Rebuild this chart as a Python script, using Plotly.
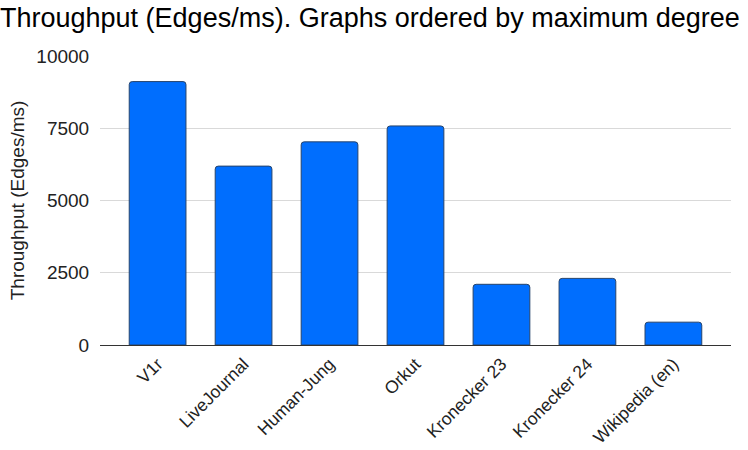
import plotly.graph_objects as go

graphs = ["V1r", "LiveJournal", "Human-Jung", "Orkut", "Kronecker 23", "Kronecker 24", "Wikipedia (en)"]
throughput = [9115, 6190, 7030, 7580, 2100, 2305, 790]
y_ticks = [0, 2500, 5000, 7500, 10000]
y_tick_labels = ["0", "2500", "5000", "7500", "10000"]

font = "Liberation Sans, Arial, sans-serif"

fig = go.Figure(go.Bar(
    x=graphs, y=throughput, width=0.66,
    marker=dict(color="#006efe", line=dict(color="#27446b", width=1), cornerradius=3),
))

fig.update_layout(
    width=748, height=450,
    margin=dict(l=100, r=17, t=56, b=105),
    paper_bgcolor="white", plot_bgcolor="white",
    font=dict(family=font, color="#222222"),
    title=dict(text="Throughput (Edges/ms). Graphs ordered by maximum degree",
               x=0, xanchor="left", xref="container", y=0.962, yanchor="middle",
               yref="container", font=dict(size=27, color="#000000")),
    showlegend=False,
)

fig.update_xaxes(range=[-0.67, 6.67], tickangle=-45, tickfont=dict(size=17.5, color="#222222"),
                 showline=True, linecolor="#333333", linewidth=1, ticks="outside", ticklen=1,
                 tickcolor="white", showgrid=False, automargin=False)
fig.update_yaxes(range=[0, 10000], tickvals=y_ticks, ticktext=y_tick_labels,
                 tickfont=dict(size=19, color="#222222"),
                 gridcolor="#d9d9d9", gridwidth=1, zeroline=False, automargin=False,
                 title=dict(text="Throughput (Edges/ms)", font=dict(size=19, color="#222222"), standoff=6),
                 ticks="outside", ticklen=6, tickcolor="white")

fig.write_html("out.html", config={"displayModeBar": False},
               post_script="document.body.style.margin='0';")
